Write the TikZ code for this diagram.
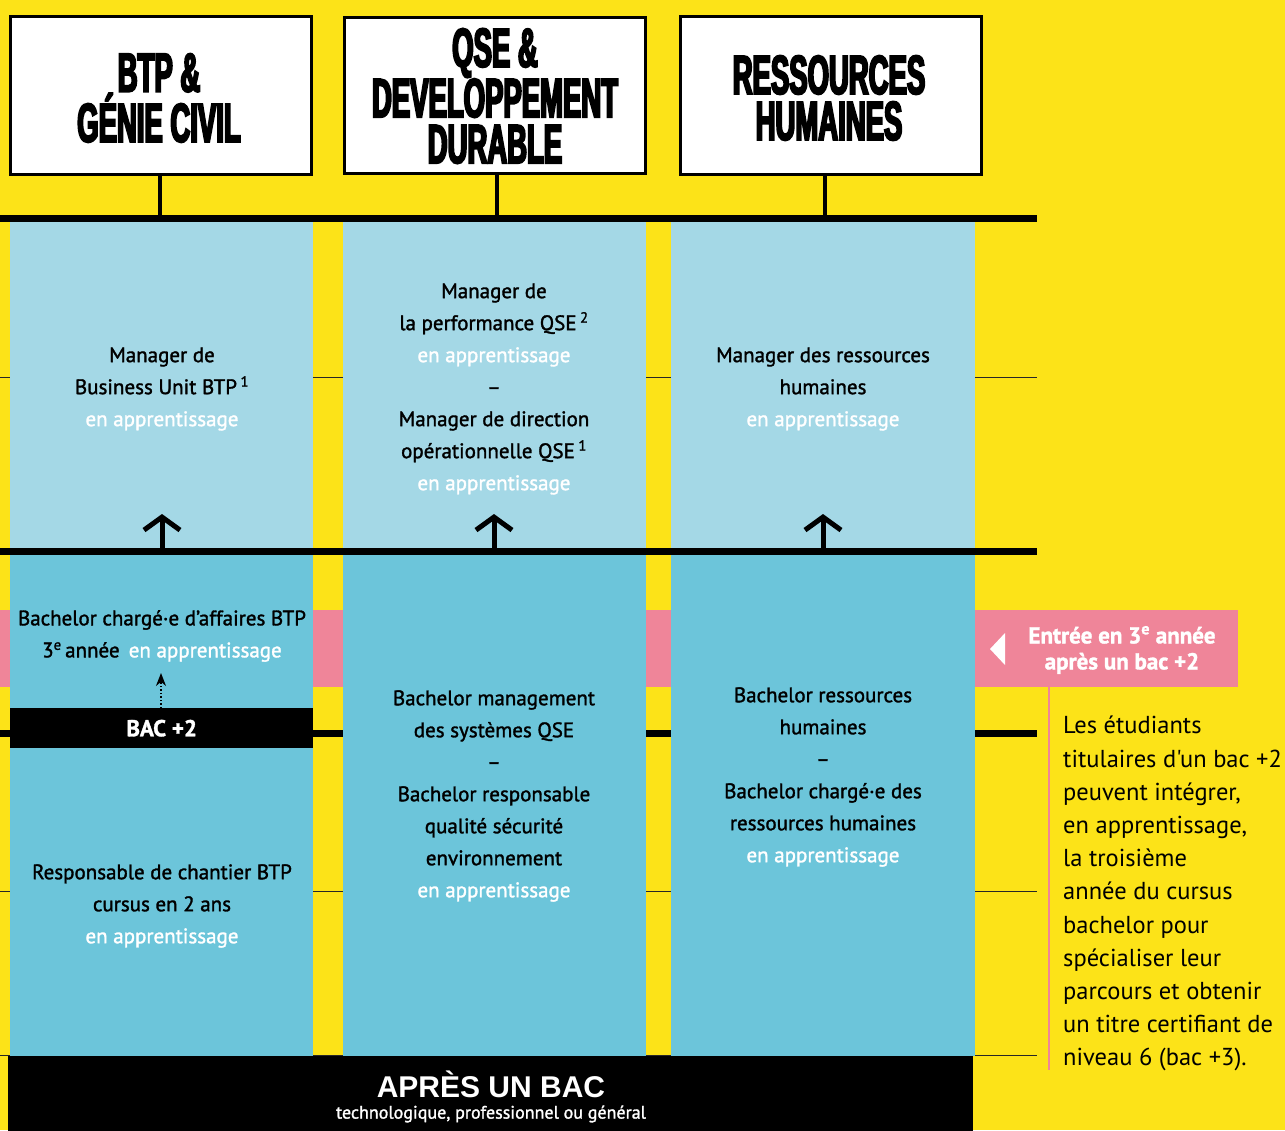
\documentclass[tikz,border=0pt]{standalone}
\usepackage{fontspec}
\setmainfont{PT Sans}[FakeBold=1.5]
\newfontfamily\headfont{Liberation Sans}[BoldFeatures={FakeBold=3.5,FakeStretch=0.5}]
\newfontfamily\widefont{Liberation Sans}
\newfontfamily\sidefont{PT Sans}[Ligatures=ResetAll]
\usetikzlibrary{arrows.meta}
\definecolor{yel}{HTML}{FCE318}
\definecolor{lblue}{HTML}{A4D8E6}
\definecolor{dblue}{HTML}{6CC5DA}
\definecolor{pinkc}{HTML}{EF8599}
\tikzset{
  hbox/.style={draw=black, line width=2.5pt, fill=white, minimum width=301pt, minimum height=158pt, anchor=north west, inner sep=0pt},
  hlabel/.style={font=\headfont\bfseries\fontsize{55}{46}\selectfont, align=center, inner sep=0pt},
  thickl/.style={line width=7pt},
  thinl/.style={line width=1pt, black!85},
  conn/.style={line width=4pt},
  upper/.style={fill=lblue, draw=none, minimum width=303pt, minimum height=327pt, anchor=north west, inner sep=0pt},
  lower/.style={fill=dblue, draw=none, minimum width=303pt, minimum height=502pt, anchor=north west, inner sep=0pt},
  body/.style={font=\fontsize{21}{32}\selectfont, align=center, inner sep=0pt, text=black},
  uparrow/.style={line width=5pt, -{Straight Barb[length=13pt,width=36pt]}},
  side/.style={font=\sidefont\fontsize{24.5}{33.2}\selectfont, align=left, inner sep=0pt, anchor=north west}
}
\newcommand{\app}{{\color{white}en apprentissage}}
\begin{document}
\begin{tikzpicture}[x=1pt,y=-1pt]
\fill[yel] (0,0) rectangle (1285,1130);
\useasboundingbox (0,0) rectangle (1285,1130);

% thin lines
\draw[thinl] (0,377) -- (1037,377);
\draw[thinl] (0,891) -- (1037,891);
\draw[thinl] (0,1055) -- (1037,1055);

% pink band
\fill[pinkc] (0,610) rectangle (1238,687);
\draw[pinkc, line width=2pt] (1049,687) -- (1049,1070);

% thick line behind columns
\draw[thickl] (0,733) -- (1037,733);

% panels
\node[upper] (u1) at (10,221) {};
\node[upper] (u2) at (343,221) {};
\node[upper, minimum width=304pt] (u3) at (671,221) {};
\node[lower] (d1) at (10,554) {};
\node[lower] (d2) at (343,554) {};
\node[lower, minimum width=304pt] (d3) at (671,554) {};

% thick lines
\coordinate (la) at (0,218);
\coordinate (lb) at (0,551);
\draw[thickl] (la) -- (1037,218);
\draw[thickl] (lb) -- (1037,551);

% header boxes
\node[hbox] (h1) at (9,15) {};
\node[hbox, minimum height=156pt] (h2) at (343,16) {};
\node[hbox] (h3) at (679,15) {};
\node[hlabel] (t1) at (159,98) {BTP \&\\GÉNIE CIVIL};
\node[hlabel] (t2) at (495,96) {QSE \&\\DEVELOPPEMENT\\DURABLE};
\node[hlabel] (t3) at (829,98) {RESSOURCES\\HUMAINES};

% connectors header -> line
\draw[conn] (160,174) -- (160,215);
\draw[conn] (497,172) -- (497,215);
\draw[conn] (825,174) -- (825,215);

% upper texts
\node[body] (m1) at (162,389) {Manager de\\Business Unit BTP\,\textsuperscript{1}\\\app};
\node[body] (m2) at (494,389) {Manager de\\la performance QSE\,\textsuperscript{2}\\\app\\–\\Manager de direction\\opérationnelle QSE\,\textsuperscript{1}\\\app};
\node[body] (m3) at (823,389) {Manager des ressources\\humaines\\\app};

% up arrows
\coordinate (a1) at (162,548);
\coordinate (a2) at (494,548);
\coordinate (a3) at (823,548);
\draw[uparrow] (a1) -- ++(0,-34);
\draw[uparrow] (a2) -- ++(0,-34);
\draw[uparrow] (a3) -- ++(0,-34);

% BAC+2 box
\node[fill=black, minimum width=303pt, minimum height=40pt, anchor=north west, inner sep=0pt] (bac2) at (10,708) {};
\node[font=\bfseries\fontsize{23}{26}\selectfont, text=white] (bac2t) at (bac2.center) {BAC +2};
\draw[line width=1.5pt, dotted, -{Stealth[length=13pt,width=10pt]}] (bac2.north -| 161,0) -- (161,673);

% lower texts
\node[body] (b1) at (162,636) {Bachelor chargé·e d’affaires BTP\\3\textsuperscript{e}\,année\, \app};
\node[body] (r1) at (162,906) {Responsable de chantier BTP\\cursus en 2 ans\\\app};
\node[body] (b2) at (494,796) {Bachelor management\\des systèmes QSE\\–\\Bachelor responsable\\qualité sécurité\\environnement\\\app};
\node[body] (b3) at (823,777) {Bachelor ressources\\humaines\\–\\Bachelor chargé·e des\\ressources humaines\\\app};

% callout
\fill[white] (990,649) -- (1005,633) -- (1005,665) -- cycle;
\node[font=\bfseries\fontsize{23}{26}\selectfont, text=white, align=center, inner sep=0pt] (entree) at (1122,650) {Entrée en 3\textsuperscript{e} année\\après un bac +2};

% side text
\node[side] (sidet) at (1063,716) {Les étudiants\\titulaires d'un bac +2\\peuvent intégrer,\\en apprentissage,\\la troisième\\année du cursus\\bachelor pour\\spécialiser leur\\parcours et obtenir\\un titre certifiant de\\niveau 6 (bac +3).};

% bottom box
\node[fill=black, minimum width=965pt, minimum height=75pt, anchor=north west, inner sep=0pt] (bot) at (8,1056) {};
\node[font=\widefont\bfseries\fontsize{30}{32}\selectfont, text=white, inner sep=0pt] (bott) at (491,1084) {APRÈS UN BAC};
\node[font=\fontsize{18}{20}\selectfont, text=white, inner sep=0pt] (bots) at (491,1114) {technologique, professionnel ou général};
\end{tikzpicture}
\end{document}
